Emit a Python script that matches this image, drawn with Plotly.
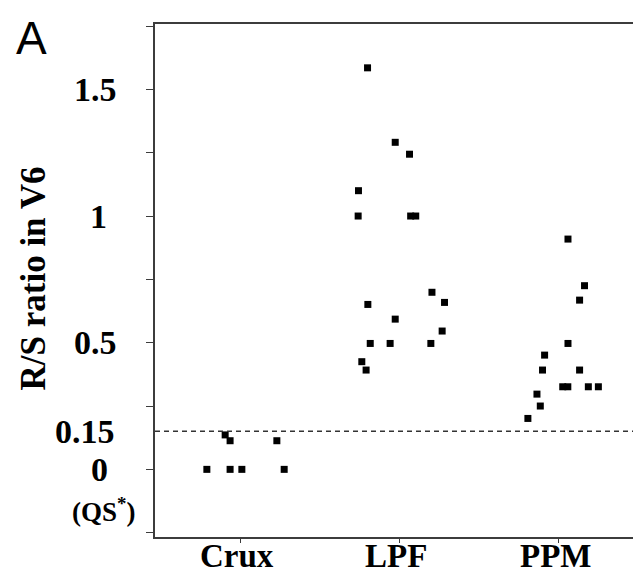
import plotly.graph_objects as go

# groups on the x axis
groups = ["Crux", "LPF", "PPM"]

# R/S ratio values, one list per group
crux_vals = [0, 0, 0, 0, 0.136, 0.113, 0.113]
lpf_vals = [1.585, 1.291, 1.100, 1.000, 1.244, 1.000, 1.000, 0.651, 0.593,
            0.497, 0.497, 0.425, 0.392, 0.699, 0.659, 0.546, 0.497]
ppm_vals = [0.909, 0.725, 0.668, 0.497, 0.451, 0.392, 0.392, 0.326, 0.326,
            0.326, 0.326, 0.297, 0.250, 0.201]

# horizontal jitter of each dot inside its group (category units)
crux_jit = [-0.209, -0.063, 0.011, 0.277, -0.094, -0.063, 0.231]
lpf_jit = [-0.199, -0.025, -0.256, -0.258, 0.065, 0.072, 0.104, -0.197, -0.025,
           -0.182, -0.057, -0.235, -0.208, 0.206, 0.285, 0.270, 0.199]
ppm_jit = [0.061, 0.165, 0.134, 0.061, -0.086, -0.099, 0.134, 0.028, 0.060,
           0.189, 0.252, -0.134, -0.113, -0.191]

# y axis ticks and labels
y_ticks = [-0.25, 0, 0.25, 0.5, 0.75, 1, 1.25, 1.5, 1.75]
y_label_vals = [1.5, 1, 0.5, 0.15, 0]
y_label_text = ["1.5", "1", "0.5", "0.15", "0"]
cutoff = 0.15

serif = "Liberation Serif"
axis_col = "#3c3c3c"
PAD = 8  # default body margin of the html page

fig = go.Figure()

for i, (vals, jit) in enumerate([(crux_vals, crux_jit), (lpf_vals, lpf_jit), (ppm_vals, ppm_jit)]):
    fig.add_trace(go.Scatter(
        x=[i + j for j in jit],
        y=vals,
        mode="markers",
        marker=dict(symbol="square", size=7, color="black"),
        showlegend=False,
        name=groups[i],
    ))

# dashed cut-off line
fig.add_shape(type="line", xref="paper", x0=0, x1=1, yref="y", y0=cutoff, y1=cutoff,
              line=dict(color="#333333", width=1.5, dash="5px,4px"))

bold = dict(family=serif, color="black", weight="bold")

# y tick labels drawn as annotations (they are centred in the original)
label_centres = {"1.5": 95, "1": 98, "0.5": 95, "0.15": 85, "0": 99}
annots = []
for v, t in zip(y_label_vals, y_label_text):
    annots.append(dict(xref="paper", x=0, xshift=label_centres[t] - 155, xanchor="center",
                       yref="y", y=v, yanchor="middle", text=t, showarrow=False,
                       font=dict(bold, size=34)))
annots.append(dict(xref="paper", x=0, xshift=103 - 155, xanchor="center",
                   yref="y", y=-0.16, yanchor="middle", text="(QS<sup>*</sup>)", showarrow=False,
                   font=dict(bold, size=27)))
# category labels, a little closer to the axis than plotly puts them
for i, g in enumerate(groups):
    annots.append(dict(xref="x", x=i, xshift=-3, xanchor="center",
                       yref="paper", y=0, yshift=-19, yanchor="middle",
                       text=g, showarrow=False, font=dict(bold, size=33)))
# y axis title
annots.append(dict(xref="paper", x=0, xshift=33 - 155, xanchor="center",
                   yref="paper", y=0.5, yshift=2, yanchor="middle", textangle=-90,
                   text="R/S ratio in V6", showarrow=False, font=dict(bold, size=35)))
# panel letter
annots.append(dict(xref="paper", x=0, xshift=31 - 155, xanchor="center",
                   yref="paper", y=1, yshift=-14, yanchor="middle",
                   text="A", showarrow=False,
                   font=dict(family="Liberation Sans", size=46, color="black")))

fig.update_layout(
    width=641 - PAD, height=577 - PAD,
    margin=dict(l=155 - PAD, r=0, t=24 - PAD, b=40),
    paper_bgcolor="white", plot_bgcolor="white",
    annotations=annots,
    xaxis=dict(
        range=[-0.535, 2.52], tickvals=[0, 1, 2], showticklabels=False,
        showgrid=False, zeroline=False, showline=True, mirror=True,
        linecolor=axis_col, linewidth=2, ticks="outside", ticklen=4, tickcolor=axis_col,
    ),
    yaxis=dict(
        range=[-0.267, 1.758], tickvals=y_ticks, showticklabels=False,
        showgrid=False, zeroline=False, showline=True, mirror=False,
        linecolor=axis_col, linewidth=2, ticks="outside", ticklen=7, tickcolor=axis_col,
    ),
)

fig.write_html("out.html")
